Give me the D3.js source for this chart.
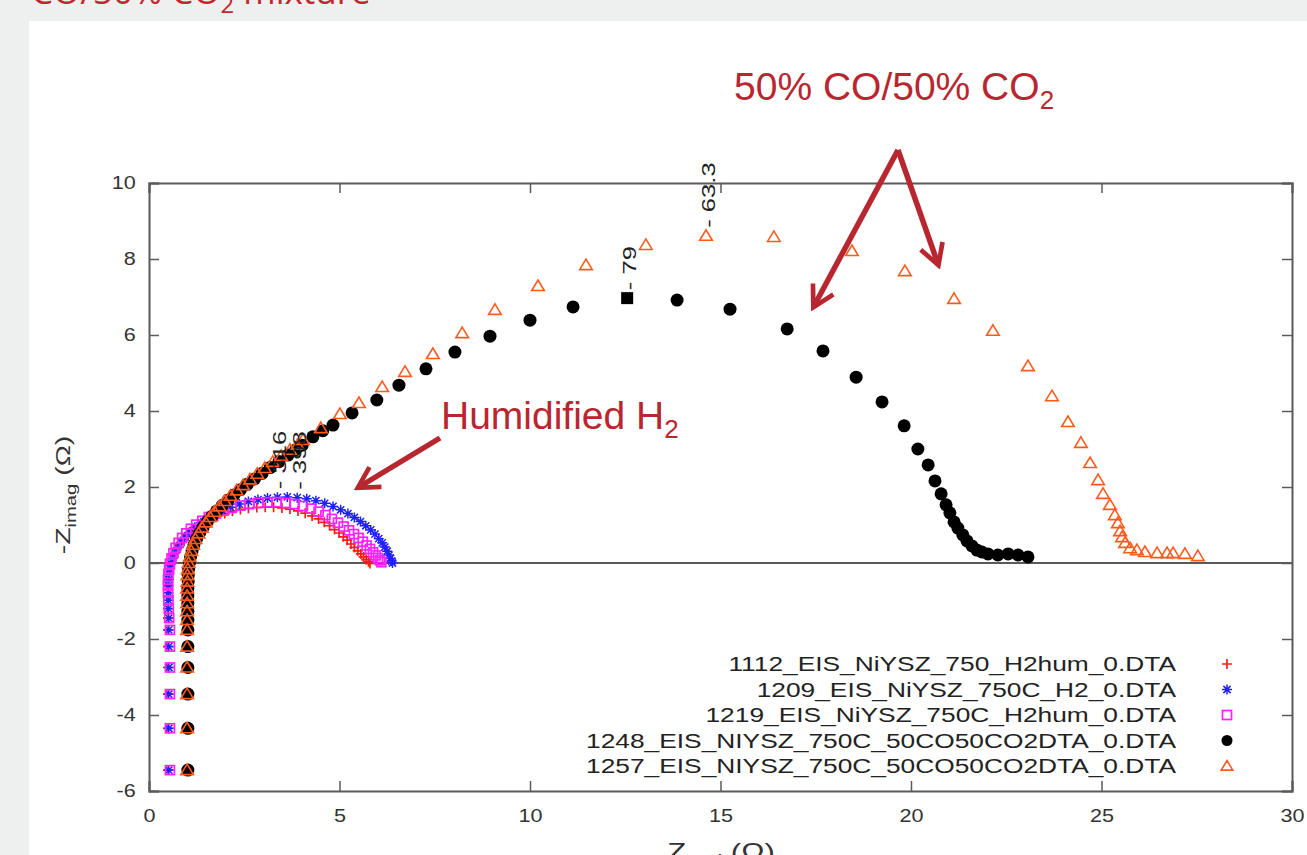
<!DOCTYPE html>
<html>
<head>
<meta charset="utf-8">
<script src="https://cdn.jsdelivr.net/npm/d3@7"></script>
<style>
  body { margin: 0; background: #eef0f0; }
  svg { display: block; }
  text { font-family: "Liberation Sans", Arial, sans-serif; }
</style>
</head>
<body>
<script>
const W = 1307;
const H = 855;

// axis ticks
const xTicks = [0, 5, 10, 15, 20, 25, 30];
const yTicks = [-6, -4, -2, 0, 2, 4, 6, 8, 10];

// 1112_EIS_NiYSZ_750_H2hum_0.DTA  (red +)
const s1112 = [[0.5,-5.45],[0.5,-4.35],[0.5,-3.45],[0.5,-2.75],[0.5,-2.2],[0.5,-1.76],[0.5,-1.45],[0.5,-1.2],[0.5,-0.98],[0.5,-0.78],[0.5,-0.6],[0.51,-0.44],[0.52,-0.29],[0.54,-0.15],[0.57,-0.02],[0.61,0.11],[0.66,0.24],[0.73,0.37],[0.81,0.5],[0.91,0.62],[1.02,0.74],[1.15,0.85],[1.29,0.96],[1.45,1.06],[1.62,1.15],[1.8,1.23],[1.99,1.3],[2.19,1.36],[2.4,1.41],[2.61,1.44],[2.83,1.46],[3.05,1.47],[3.27,1.47],[3.49,1.45],[3.7,1.42],[3.91,1.37],[4.1,1.31],[4.28,1.24],[4.45,1.16],[4.6,1.07],[4.74,0.98],[4.87,0.88],[4.99,0.79],[5.1,0.69],[5.2,0.6],[5.3,0.5],[5.39,0.41],[5.48,0.32],[5.56,0.24],[5.63,0.16],[5.7,0.09],[5.76,0.03],[5.8,-0.01]];

// 1209_EIS_NiYSZ_750C_H2_0.DTA  (blue *)
const s1209 = [[0.52,-5.45],[0.52,-4.35],[0.52,-3.45],[0.52,-2.75],[0.52,-2.2],[0.52,-1.76],[0.52,-1.45],[0.51,-1.2],[0.51,-0.98],[0.51,-0.78],[0.51,-0.6],[0.52,-0.44],[0.53,-0.29],[0.55,-0.15],[0.58,-0.02],[0.62,0.12],[0.68,0.26],[0.75,0.4],[0.84,0.54],[0.94,0.68],[1.06,0.81],[1.2,0.94],[1.36,1.06],[1.53,1.17],[1.72,1.28],[1.92,1.38],[2.14,1.47],[2.37,1.55],[2.61,1.62],[2.86,1.67],[3.11,1.71],[3.37,1.73],[3.63,1.74],[3.89,1.72],[4.14,1.69],[4.38,1.64],[4.61,1.57],[4.83,1.49],[5.03,1.4],[5.22,1.3],[5.39,1.2],[5.55,1.09],[5.69,0.98],[5.82,0.87],[5.93,0.76],[6.03,0.64],[6.12,0.53],[6.19,0.42],[6.25,0.31],[6.3,0.21],[6.34,0.12],[6.37,0.05],[6.39,0.0]];

// 1219_EIS_NiYSZ_750C_H2hum_0.DTA  (magenta square)
const s1219 = [[0.55,-5.45],[0.55,-4.35],[0.55,-3.45],[0.55,-2.75],[0.55,-2.2],[0.55,-1.76],[0.53,-1.45],[0.52,-1.2],[0.51,-0.98],[0.5,-0.78],[0.5,-0.6],[0.5,-0.44],[0.51,-0.29],[0.53,-0.15],[0.55,-0.02],[0.59,0.12],[0.64,0.26],[0.7,0.4],[0.78,0.53],[0.87,0.66],[0.98,0.78],[1.1,0.9],[1.24,1.01],[1.4,1.11],[1.57,1.21],[1.76,1.3],[1.96,1.38],[2.17,1.45],[2.4,1.51],[2.63,1.55],[2.87,1.58],[3.11,1.6],[3.35,1.6],[3.59,1.58],[3.82,1.55],[4.04,1.5],[4.25,1.43],[4.45,1.35],[4.63,1.26],[4.8,1.16],[4.96,1.06],[5.11,0.96],[5.25,0.86],[5.38,0.76],[5.5,0.66],[5.61,0.56],[5.71,0.46],[5.8,0.37],[5.88,0.28],[5.95,0.2],[6.01,0.13],[6.06,0.07],[6.1,0.02]];

// 1248_EIS_NIYSZ_750C_50CO50CO2DTA_0.DTA  (black dot)
const s1248 = [[1.02,-5.45],[1.02,-4.35],[1.02,-3.45],[1.02,-2.75],[1.02,-2.2],[1.02,-1.76],[1.02,-1.5],[1.02,-1.27],[1.02,-1.06],[1.02,-0.86],[1.02,-0.67],[1.03,-0.49],[1.03,-0.32],[1.04,-0.16],[1.06,0],[1.09,0.16],[1.13,0.32],[1.18,0.48],[1.25,0.64],[1.33,0.79],[1.42,0.94],[1.53,1.09],[1.65,1.23],[1.78,1.37],[1.92,1.51],[2.07,1.65],[2.23,1.79],[2.4,1.93],[2.58,2.07],[2.77,2.21],[2.97,2.36],[3.18,2.51],[3.41,2.67],[3.65,2.84],[3.85,2.98],[4.02,3.1],[4.3,3.32],[4.56,3.48],[4.83,3.63],[5.33,3.95],[5.98,4.29],[6.56,4.68],[7.27,5.11],[8.03,5.55],[8.95,5.97],[10.0,6.39],[11.13,6.74],[12.55,6.97],[13.86,6.92],[15.25,6.68],[16.75,6.16],[17.69,5.58],[18.56,4.89],[19.24,4.24],[19.82,3.61],[20.18,3.0],[20.45,2.58],[20.63,2.16],[20.79,1.82],[20.92,1.53],[21.02,1.32],[21.13,1.08],[21.23,0.92],[21.36,0.74],[21.47,0.58],[21.6,0.45],[21.73,0.34],[21.86,0.29],[22.02,0.24],[22.28,0.21],[22.55,0.24],[22.81,0.21],[23.07,0.16]];

// 1257_EIS_NIYSZ_750C_50CO50CO2DTA_0.DTA  (orange triangle)
const s1257 = [[1.0,-5.45],[1.0,-4.35],[1.0,-3.45],[1.0,-2.75],[1.0,-2.2],[1.0,-1.76],[1.0,-1.5],[1.0,-1.27],[1.0,-1.06],[1.0,-0.86],[1.0,-0.67],[1.01,-0.49],[1.01,-0.32],[1.02,-0.16],[1.04,0],[1.07,0.16],[1.11,0.32],[1.16,0.48],[1.22,0.63],[1.3,0.78],[1.39,0.93],[1.49,1.07],[1.6,1.21],[1.72,1.35],[1.85,1.49],[1.99,1.63],[2.14,1.77],[2.3,1.91],[2.47,2.05],[2.65,2.2],[2.84,2.35],[3.04,2.5],[3.25,2.66],[3.47,2.82],[3.7,2.98],[3.9,3.11],[4.04,3.24],[4.51,3.55],[5.01,3.92],[5.51,4.21],[6.12,4.63],[6.72,5.03],[7.45,5.5],[8.22,6.05],[9.08,6.66],[10.21,7.29],[11.47,7.84],[13.04,8.37],[14.62,8.61],[16.4,8.58],[18.45,8.21],[19.84,7.68],[21.13,6.95],[22.15,6.11],[23.07,5.18],[23.7,4.39],[24.12,3.71],[24.46,3.16],[24.7,2.63],[24.91,2.18],[25.04,1.82],[25.22,1.53],[25.35,1.26],[25.43,1.05],[25.49,0.84],[25.54,0.68],[25.62,0.53],[25.75,0.39],[25.93,0.34],[26.14,0.29],[26.46,0.26],[26.72,0.26],[26.88,0.26],[27.19,0.24],[27.53,0.18]];

const seriesNames = [
  "1112_EIS_NiYSZ_750_H2hum_0.DTA",
  "1209_EIS_NiYSZ_750C_H2_0.DTA",
  "1219_EIS_NiYSZ_750C_H2hum_0.DTA",
  "1248_EIS_NIYSZ_750C_50CO50CO2DTA_0.DTA",
  "1257_EIS_NIYSZ_750C_50CO50CO2DTA_0.DTA"
];
const seriesData = [s1112, s1209, s1219, s1248, s1257];
const seriesColors = ["#ff1a1a", "#2020ff", "#ff22ff", "#000000", "#ff5a1e"];
const seriesShapes = ["plus", "star", "square", "dot", "triangle"];

// frequency labels: [series index, point index, text]
const freqLabels = [[3, 47, "- 79"], [4, 48, "- 63.3"], [1, 31, "- 316"], [1, 33, "- 398"]];

// gnuplot's font is wider than Liberation Sans
const stretch = 1.35;

const svg = d3.select("body").append("svg")
    .attr("width", W)
    .attr("height", H);

// slide background + white panel
svg.append("rect").attr("width", W).attr("height", H).attr("fill", "#eef0f0");
svg.append("rect").attr("x", 29).attr("y", 21).attr("width", W - 29).attr("height", H - 21).attr("fill", "#ffffff");

// slide title, cut by the top edge as in the source
const title = svg.append("text")
    .attr("x", 31).attr("y", 4)
    .attr("fill", "#c4262e")
    .style("font-family", "'Open Sans', sans-serif")
    .style("font-size", "35px");
title.append("tspan").text("CO/50% CO");
title.append("tspan").attr("dy", 9).style("font-size", "24px").text("2");
title.append("tspan").attr("dy", -9).text(" mixture");

const x = d3.scaleLinear().domain([0, 30]).range([149, 1292]);
const y = d3.scaleLinear().domain([-6, 10]).range([791, 183]);

const axisColor = "#5a5a5a";
const fmt = d => String(d);

// axes with inward ticks on all four sides
const gb = svg.append("g").attr("transform", `translate(0,${y(-6)})`)
    .call(d3.axisBottom(x).tickValues(xTicks).tickSize(-10).tickPadding(18).tickFormat(fmt));
const gt = svg.append("g").attr("transform", `translate(0,${y(10)})`)
    .call(d3.axisTop(x).tickValues(xTicks).tickSize(-10).tickFormat(""));
const gl = svg.append("g").attr("transform", `translate(${x(0)},0)`)
    .call(d3.axisLeft(y).tickValues(yTicks).tickSize(-10).tickPadding(11).tickFormat(fmt));
const gr = svg.append("g").attr("transform", `translate(${x(30)},0)`)
    .call(d3.axisRight(y).tickValues(yTicks).tickSize(-10).tickFormat(""));

[gb, gt, gl, gr].forEach(g => {
    g.select(".domain").attr("stroke", axisColor).attr("stroke-width", 2);
    g.selectAll(".tick line").attr("stroke", axisColor).attr("stroke-width", 1.5);
    g.selectAll(".tick text").attr("fill", "#333").style("font-size", "18px")
        .attr("transform", "scale(1.2,1)")
        .style("font-family", "'Liberation Sans', Arial, sans-serif");
});

// zero line
svg.append("line")
    .attr("x1", x(0)).attr("x2", x(30))
    .attr("y1", y(0)).attr("y2", y(0))
    .attr("stroke", axisColor).attr("stroke-width", 2);

// axis labels
const yl = svg.append("text")
    .attr("transform", `translate(70,495) rotate(-90) scale(${stretch},1)`)
    .attr("text-anchor", "middle")
    .attr("fill", "#333")
    .style("font-size", "21px");
yl.append("tspan").text("-Z");
yl.append("tspan").attr("dy", 6).style("font-size", "15px").text("imag");
yl.append("tspan").attr("dy", -6).text(" (\u03A9)");

const xl = svg.append("text")
    .attr("transform", `translate(721,860) scale(${stretch},1)`)
    .attr("text-anchor", "middle")
    .attr("fill", "#333")
    .style("font-size", "23px");
xl.append("tspan").text("Z");
xl.append("tspan").attr("dy", 6).style("font-size", "16px").text("real");
xl.append("tspan").attr("dy", -6).text(" (\u03A9)");

// marker drawing
function drawMarker(g, shape, color, size) {
    const s = size;
    if (shape === "plus") {
        g.append("path").attr("d", `M${-s},0H${s}M0,${-s}V${s}`)
            .attr("stroke", color).attr("stroke-width", 1.7).attr("fill", "none");
    } else if (shape === "star") {
        const d = s * 0.72;
        g.append("path").attr("d", `M${-s},0H${s}M0,${-s}V${s}M${-d},${-d}L${d},${d}M${-d},${d}L${d},${-d}`)
            .attr("stroke", color).attr("stroke-width", 1.5).attr("fill", "none");
    } else if (shape === "square") {
        g.append("rect").attr("x", -s).attr("y", -s).attr("width", 2 * s).attr("height", 2 * s)
            .attr("stroke", color).attr("stroke-width", 1.7).attr("fill", "none");
    } else if (shape === "dot") {
        g.append("circle").attr("r", s).attr("fill", color);
    } else if (shape === "triangle") {
        g.append("path").attr("d", `M0,${-s}L${s * 1.05},${s * 0.75}L${-s * 1.05},${s * 0.75}Z`)
            .attr("stroke", color).attr("stroke-width", 1.6).attr("fill", "none");
    }
}

const markerSizes = [5, 5, 4.5, 6.5, 6];

seriesData.forEach((data, i) => {
    const g = svg.append("g").attr("class", "series-" + i);
    g.selectAll("g.pt")
        .data(data)
        .enter().append("g")
        .attr("class", "pt")
        .attr("transform", d => `translate(${x(d[0])},${y(d[1])})`)
        .each(function (d, k) {
            const isLabeled = i === 3 && freqLabels.some(f => f[0] === i && f[1] === k);
            if (isLabeled) {
                d3.select(this).append("rect").attr("x", -6).attr("y", -6).attr("width", 12).attr("height", 12).attr("fill", "#000");
            } else {
                drawMarker(d3.select(this), seriesShapes[i], seriesColors[i], markerSizes[i]);
            }
        });
});

// frequency labels, rotated like in the original
freqLabels.forEach(f => {
    const p = seriesData[f[0]][f[1]];
    svg.append("text")
        .attr("transform", `translate(${x(p[0]) + 9},${y(p[1]) - 8}) rotate(-90) scale(${stretch},1)`)
        .attr("fill", "#222")
        .style("font-size", "19px")
        .text(f[2]);
});

// legend
const legend = svg.append("g");
seriesNames.forEach((name, i) => {
    const ly = 664 + i * 25.5;
    legend.append("text")
        .attr("transform", `translate(1176,${ly + 7}) scale(${stretch},1)`)
        .attr("text-anchor", "end")
        .attr("fill", "#222")
        .style("font-size", "19.5px")
        .text(name);
    const g = legend.append("g").attr("transform", `translate(1227,${ly})`);
    drawMarker(g, seriesShapes[i], seriesColors[i], [5, 5, 4.5, 5.5, 5.5][i]);
});

// annotations
const annColor = "#b8272f";

svg.append("defs").append("marker")
    .attr("id", "head")
    .attr("viewBox", "0 0 10 10")
    .attr("refX", 8).attr("refY", 5)
    .attr("markerWidth", 5).attr("markerHeight", 5)
    .attr("markerUnits", "strokeWidth")
    .attr("orient", "auto")
    .append("path")
    .attr("d", "M1,0.8L8.5,5L1,9.2")
    .attr("fill", "none")
    .attr("stroke", annColor)
    .attr("stroke-width", 1.7)
    .attr("stroke-linejoin", "miter");

const arrows = [[898, 150, 814, 306], [898, 150, 938, 264], [440, 438, 359, 487]];
arrows.forEach(a => {
    svg.append("line")
        .attr("x1", a[0]).attr("y1", a[1]).attr("x2", a[2]).attr("y2", a[3])
        .attr("stroke", annColor).attr("stroke-width", 5.5)
        .attr("marker-end", "url(#head)");
});

const t1 = svg.append("text")
    .attr("x", 734).attr("y", 100)
    .attr("fill", annColor)
    .style("font-size", "39px");
t1.append("tspan").text("50% CO/50% CO");
t1.append("tspan").attr("dy", 9).style("font-size", "26px").text("2");

const t2 = svg.append("text")
    .attr("x", 441).attr("y", 429)
    .attr("fill", annColor)
    .style("font-size", "39px");
t2.append("tspan").text("Humidified H");
t2.append("tspan").attr("dy", 9).style("font-size", "26px").text("2");
</script>
</body>
</html>
